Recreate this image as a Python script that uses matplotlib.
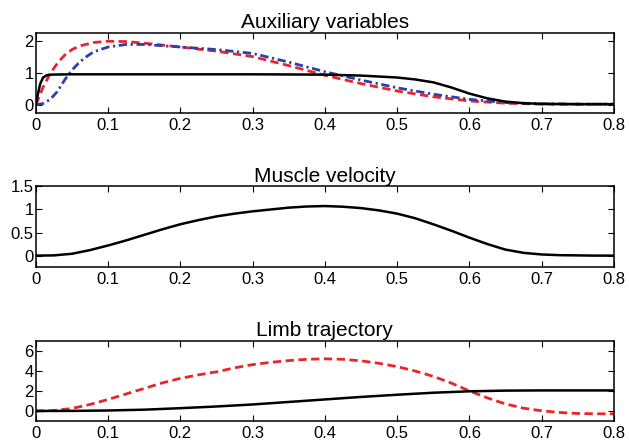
import numpy as np
import matplotlib.pyplot as plt

plt.rcParams['font.family'] = ['Liberation Sans', 'DejaVu Sans']

# auxiliary variables (top panel)
t_aux_k = [0, 0.003, 0.006, 0.01, 0.015, 0.02, 0.05, 0.1, 0.2, 0.3, 0.4, 0.45, 0.5,
           0.525, 0.55, 0.575, 0.6, 0.625, 0.65, 0.675, 0.7, 0.75, 0.8]
aux_k = [0, 0.35, 0.65, 0.85, 0.92, 0.94, 0.95, 0.95, 0.95, 0.95, 0.94, 0.91, 0.85,
         0.79, 0.70, 0.54, 0.35, 0.2, 0.1, 0.05, 0.03, 0.02, 0.02]

t_aux_r = [0, 0.01, 0.02, 0.03, 0.04, 0.05, 0.06, 0.08, 0.1, 0.125, 0.15, 0.2, 0.25,
           0.3, 0.35, 0.4, 0.45, 0.5, 0.55, 0.6, 0.65, 0.7, 0.75, 0.8]
aux_r = [0, 0.55, 0.98, 1.3, 1.55, 1.72, 1.83, 1.94, 1.98, 1.97, 1.92, 1.8, 1.67,
         1.5, 1.22, 0.92, 0.66, 0.43, 0.25, 0.12, 0.05, 0.02, 0.02, 0.02]

t_aux_b = [0, 0.01, 0.02, 0.03, 0.04, 0.05, 0.06, 0.07, 0.08, 0.1, 0.125, 0.15, 0.175,
           0.2, 0.25, 0.3, 0.35, 0.4, 0.45, 0.5, 0.55, 0.6, 0.65, 0.7, 0.75, 0.8]
aux_b = [0, 0.04, 0.17, 0.42, 0.78, 1.08, 1.32, 1.5, 1.65, 1.8, 1.88, 1.88, 1.84,
         1.8, 1.72, 1.6, 1.33, 1.03, 0.77, 0.53, 0.33, 0.17, 0.07, 0.03, 0.02, 0.02]

# muscle velocity (middle panel), step 0.025
t_vel = [i * 0.025 for i in range(33)]
vel = [0, 0.005, 0.04, 0.12, 0.22, 0.33, 0.45, 0.57, 0.68, 0.77, 0.85, 0.91, 0.96,
       1.0, 1.04, 1.065, 1.075, 1.06, 1.03, 0.98, 0.91, 0.81, 0.68, 0.54, 0.39,
       0.25, 0.13, 0.06, 0.025, 0.01, 0.005, 0, 0]

# limb trajectory (bottom panel)
t_pos = [0, 0.05, 0.1, 0.15, 0.2, 0.25, 0.3, 0.35, 0.4, 0.45, 0.5, 0.55, 0.6,
         0.65, 0.7, 0.75, 0.8]
pos = [0, 0.01, 0.05, 0.13, 0.28, 0.45, 0.65, 0.9, 1.15, 1.4, 1.62, 1.82, 1.96,
       2.03, 2.05, 2.05, 2.05]

t_spd = [i * 0.025 for i in range(33)]
spd = [0, 0.05, 0.25, 0.65, 1.15, 1.7, 2.25, 2.8, 3.25, 3.6, 3.9, 4.3, 4.62,
       4.85, 5.02, 5.15, 5.2, 5.15, 5.0, 4.75, 4.42, 3.98, 3.45, 2.78, 2.0,
       1.3, 0.7, 0.28, 0.02, -0.15, -0.25, -0.28, -0.28]

red = '#e8262a'
blue = '#2b3fae'

fig = plt.figure(figsize=(6.29, 4.46), dpi=100)
ax1 = fig.add_axes([0.057, 0.747, 0.919, 0.180])
ax2 = fig.add_axes([0.057, 0.401, 0.919, 0.181])
ax3 = fig.add_axes([0.057, 0.056, 0.919, 0.180])

ax1.plot(t_aux_r, aux_r, color=red, lw=2, dashes=(3, 1.6))
ax1.plot(t_aux_b, aux_b, color=blue, lw=2, dashes=(3, 1.3, 0.8, 1.3))
ax1.plot(t_aux_k, aux_k, color='black', lw=1.8)
ax1.set_ylim(-0.25, 2.25)
ax1.set_yticks([0, 1, 2])
ax1.set_yticklabels(['0', '1', '2'])
ax1.set_title('Auxiliary variables', fontsize=15, pad=3.5)

ax2.plot(t_vel, vel, color='black', lw=1.8)
ax2.set_ylim(-0.25, 1.5)
ax2.set_yticks([0, 0.5, 1, 1.5])
ax2.set_yticklabels(['0', '0.5', '1', '1.5'])
ax2.set_title('Muscle velocity', fontsize=15, pad=3.5)

ax3.plot(t_spd, spd, color=red, lw=2, dashes=(3, 1.6))
ax3.plot(t_pos, pos, color='black', lw=1.8)
ax3.set_ylim(-1, 7)
ax3.set_yticks([0, 2, 4, 6])
ax3.set_title('Limb trajectory', fontsize=15, pad=3.5)

xt = [0, 0.1, 0.2, 0.3, 0.4, 0.5, 0.6, 0.7, 0.8]
for ax in (ax1, ax2, ax3):
    ax.set_xlim(0, 0.8)
    ax.set_xticks(xt)
    ax.set_xticklabels(['0', '0.1', '0.2', '0.3', '0.4', '0.5', '0.6', '0.7', '0.8'])
    ax.tick_params(direction='in', top=True, right=True, labelsize=12,
                   length=4, width=0.8)
    ax.tick_params(axis='x', pad=3.5)
    ax.tick_params(axis='y', pad=1.5)
    for s in ax.spines.values():
        s.set_linewidth(1.1)

fig.savefig('out.png', dpi=100)
